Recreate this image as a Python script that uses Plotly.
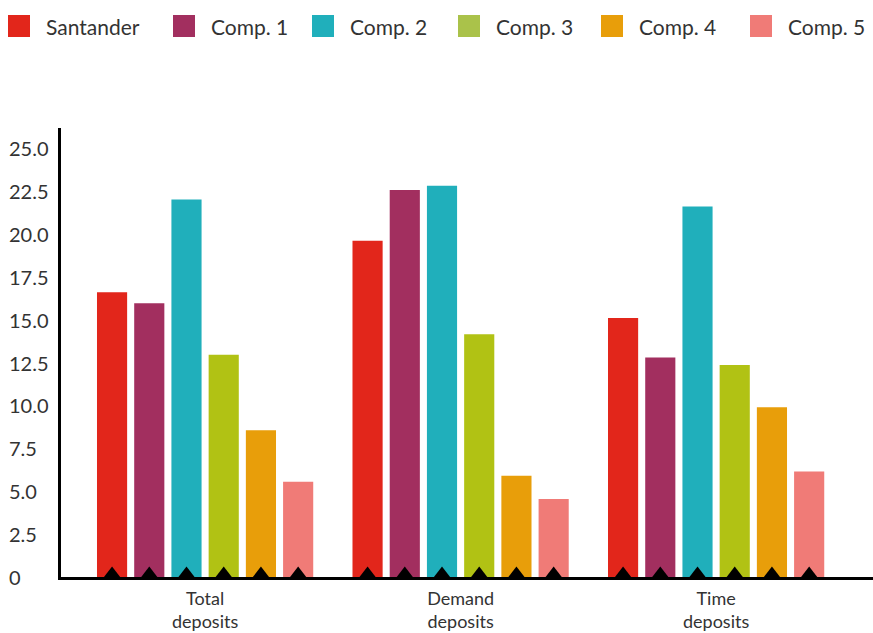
import plotly.graph_objects as go

categories = ["Total<br>deposits", "Demand<br>deposits", "Time<br>deposits"]
series_names = ["Santander", "Comp. 1", "Comp. 2", "Comp. 3", "Comp. 4", "Comp. 5"]
santander = [16.6, 19.6, 15.1]
comp1 = [15.95, 22.55, 12.8]
comp2 = [22.0, 22.8, 21.6]
comp3 = [12.95, 14.15, 12.35]
comp4 = [8.55, 5.9, 9.9]
comp5 = [5.55, 4.55, 6.15]
series_values = [santander, comp1, comp2, comp3, comp4, comp5]
colors = ["#E2261B", "#A22F5F", "#20AFBB", "#B1C214", "#E89E0A", "#F07B77"]
legend_colors = ["#E2261B", "#A22F5F", "#20AFBB", "#AAC24A", "#E89E0A", "#F07B77"]
tick_vals = [0, 2.5, 5, 7.5, 10, 12.5, 15, 17.5, 20, 22.5, 25]
tick_text = ["0", "2.5", "5.0", "7.5", "10.0", "12.5", "15.0", "17.5", "20.0", "22.5", "25.0"]

FONT = "Lato"
TXT = "#333333"
W, H = 873, 633
ML, MR, MT, MB = 61, 0, 128, 56
PW = W - ML - MR
PH = H - MT - MB

fig = go.Figure()
for i, (name, vals) in enumerate(zip(series_names, series_values)):
    fig.add_trace(go.Bar(
        x=categories, y=vals, name=name, marker=dict(color=colors[i], line=dict(width=0)),
        offsetgroup=str(i), showlegend=False, hoverinfo="y+name"))
for i, (name, vals) in enumerate(zip(series_names, series_values)):
    fig.add_trace(go.Scatter(
        x=categories, y=[0] * len(vals), mode="markers", offsetgroup=str(i),
        marker=dict(symbol="triangle-up", size=21, color="black", line=dict(width=0)),
        showlegend=False, hoverinfo="skip"))

shapes = []
annotations = []
# manual legend with large squares
sq_left = [8, 173, 312, 458, 601, 750]
sq = 22
cy = 26
for i, name in enumerate(series_names):
    x0 = (sq_left[i] - ML) / PW
    x1 = (sq_left[i] + sq - ML) / PW
    y0 = (H - MB - (cy + sq / 2)) / PH
    y1 = (H - MB - (cy - sq / 2)) / PH
    shapes.append(dict(type="rect", xref="paper", yref="paper", x0=x0, x1=x1, y0=y0, y1=y1,
                       fillcolor=legend_colors[i], line=dict(width=0)))
    annotations.append(dict(xref="paper", yref="paper", x=(sq_left[i] + sq + 14 - ML) / PW,
                            y=(H - MB - cy) / PH, xanchor="left", yanchor="middle",
                            text=name, showarrow=False,
                            font=dict(family=FONT, size=21, color=TXT)))
# left-aligned y tick labels
for v, t in zip(tick_vals, tick_text):
    annotations.append(dict(xref="paper", yref="y", x=(7 - ML) / PW, y=v, xanchor="left",
                            yanchor="middle", text=t, showarrow=False,
                            font=dict(family=FONT, size=20, color=TXT)))

fig.update_layout(
    width=W, height=H,
    margin=dict(l=ML, r=MR, t=MT, b=MB),
    plot_bgcolor="white", paper_bgcolor="white",
    barmode="group", bargap=0.126, bargroupgap=0.19,
    scattermode="group", scattergap=0.126,
    showlegend=False,
    font=dict(family=FONT, color=TXT),
    xaxis=dict(range=[-0.564, 2.614], showgrid=False, zeroline=False,
               showline=True, linecolor="black", linewidth=3, ticks="",
               ticklabelstandoff=3, automargin=False,
               tickfont=dict(family=FONT, size=18, color=TXT), fixedrange=True),
    yaxis=dict(range=[0, 26.17], showgrid=False, zeroline=False,
               showline=True, linecolor="black", linewidth=3, ticks="",
               tickvals=tick_vals, showticklabels=False, automargin=False,
               fixedrange=True),
    shapes=shapes, annotations=annotations,
)
fig.write_html("out.html")
